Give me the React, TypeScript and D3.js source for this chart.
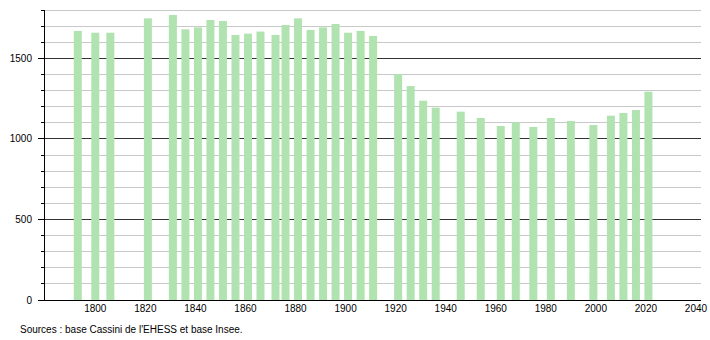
import React from "react";
import * as d3 from "d3";

const years = [1793, 1800, 1806, 1821, 1831, 1836, 1841, 1846, 1851, 1856, 1861, 1866, 1872, 1876, 1881, 1886, 1891, 1896, 1901, 1906, 1911, 1921, 1926, 1931, 1936, 1946, 1954, 1962, 1968, 1975, 1982, 1990, 1999, 2006, 2011, 2016, 2021];
const population = [1670, 1659, 1659, 1748, 1769, 1680, 1692, 1738, 1732, 1645, 1653, 1666, 1645, 1707, 1748, 1676, 1692, 1713, 1659, 1670, 1639, 1403, 1328, 1237, 1194, 1169, 1130, 1080, 1103, 1074, 1130, 1111, 1086, 1144, 1161, 1179, 1293];
const xTicks = [1800, 1820, 1840, 1860, 1880, 1900, 1920, 1940, 1960, 1980, 2000, 2020, 2040];
const yMajorTicks = [0, 500, 1000, 1500];
const yGridTicks = d3.range(100, 1801, 100);
const sourceText = "Sources : base Cassini de l'EHESS et base Insee.";

const W = 710;
const H = 340;
const left = 44;
const right = 701;
const top = 10;
const bottom = 300;

export default function App() {
  const x = d3.scaleLinear().domain([1779.5, 2042]).range([left, right]);
  const y = d3.scaleLinear().domain([0, 1800]).range([bottom, top]);
  const barW = 8;
  const font = "'Liberation Sans', Arial, sans-serif";
  return (
    <svg width={W} height={H} style={{ position: "absolute", left: 0, top: 0, background: "#fff" }}>
      {yGridTicks.map((v) => (
        <line key={"g" + v} x1={left} x2={right} y1={y(v)} y2={y(v)}
          stroke={v % 500 === 0 ? "#333" : "#c8c8c8"} strokeWidth={1} shapeRendering="crispEdges" />
      ))}
      {years.map((yr, i) => (
        <rect key={yr} x={x(yr) - barW / 2} y={y(population[i])} width={barW}
          height={bottom - y(population[i])} fill="#b0e3b0" />
      ))}
      <line x1={left} x2={left} y1={top} y2={bottom} stroke="#000" shapeRendering="crispEdges" />
      <line x1={left} x2={right} y1={bottom} y2={bottom} stroke="#000" shapeRendering="crispEdges" />
      {d3.range(0, 1801, 100).map((v) => (
        <line key={"t" + v} x1={v % 500 === 0 ? left - 6 : left - 3} x2={left} y1={y(v)} y2={y(v)}
          stroke="#000" shapeRendering="crispEdges" />
      ))}
      {yMajorTicks.map((v) => (
        <text key={"yl" + v} x={32} y={y(v)} dy="0.35em" textAnchor="end" fontSize={10} fontFamily={font} fill="#000">
          {v}
        </text>
      ))}
      {xTicks.map((v) => (
        <text key={"xl" + v} x={x(v)} y={312} textAnchor="middle" fontSize={10} fontFamily={font} fill="#000">
          {v}
        </text>
      ))}
      <text x={20} y={332.5} fontSize={10} fontFamily={font} fill="#000">{sourceText}</text>
    </svg>
  );
}
